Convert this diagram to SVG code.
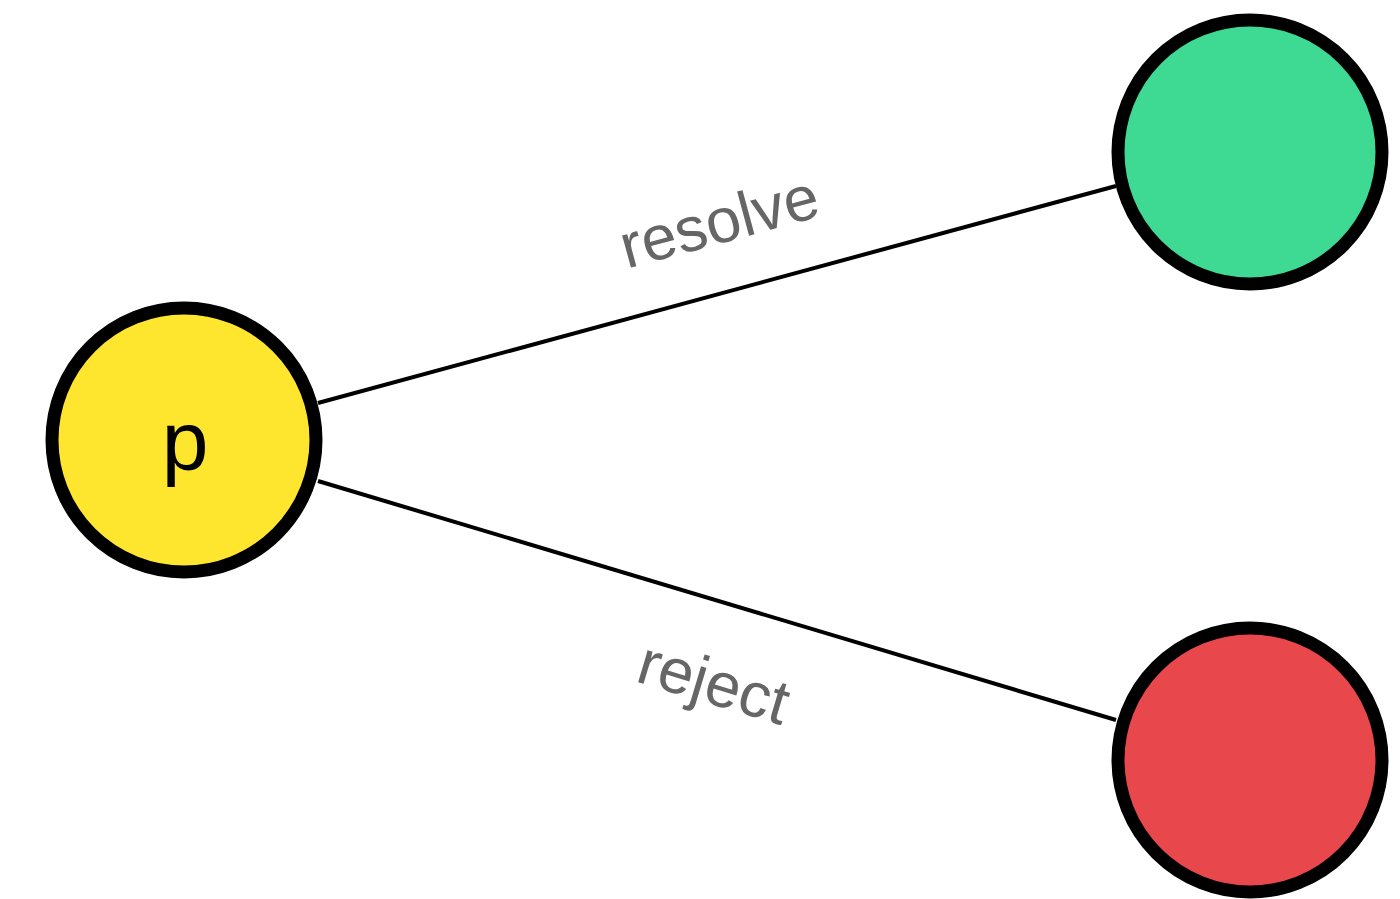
<svg xmlns="http://www.w3.org/2000/svg" width="1400" height="899" viewBox="0 0 1400 899">
  <style>
    .node { stroke: #000; stroke-width: 13; }
    .edge { stroke: #000; stroke-width: 4; fill: none; }
    .label { font-family: "Liberation Sans", Arial, sans-serif; font-size: 63px; fill: #666; text-anchor: middle; dominant-baseline: central; }
    .title { font-family: "Liberation Sans", Arial, sans-serif; font-size: 84px; fill: #000; text-anchor: middle; }
  </style>
  <rect width="1400" height="899" fill="#fff"/>
  <g id="connectors">
    <line class="edge" x1="318" y1="403" x2="1116" y2="186"/>
    <line class="edge" x1="318" y1="481" x2="1116" y2="720"/>
    <text class="label" x="719" y="221" transform="rotate(-15.2 719 221)">resolve</text>
    <text class="label" x="714" y="682" transform="rotate(16.7 714 682)">reject</text>
  </g>
  <g id="node-p">
    <circle class="node" cx="184" cy="440" r="132" fill="#FFE62E"/>
    <text class="title" x="185" y="470">p</text>
  </g>
  <g id="node-resolved">
    <circle class="node" cx="1250" cy="152" r="132" fill="#3EDA94"/>
  </g>
  <g id="node-rejected">
    <circle class="node" cx="1250" cy="760" r="132" fill="#E8484C"/>
  </g>
</svg>
